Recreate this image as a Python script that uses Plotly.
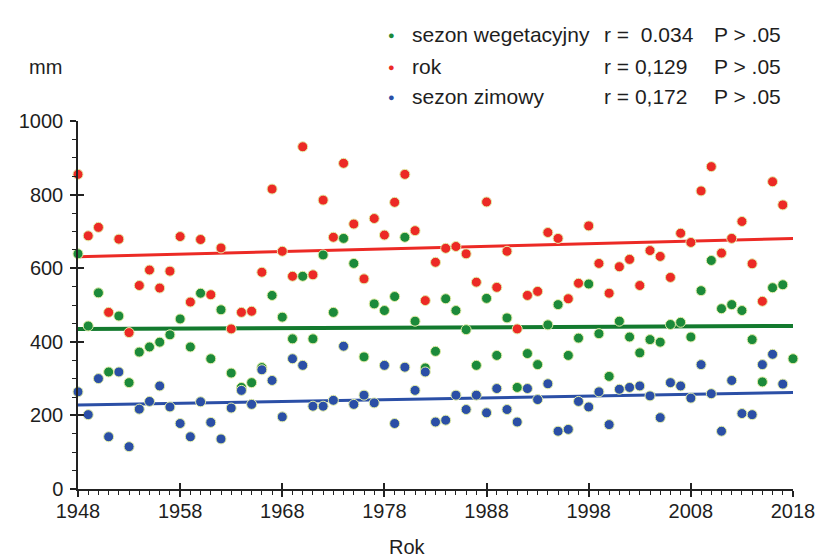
import plotly.graph_objects as go

years_rok = list(range(1948, 2018))
years_wege = list(range(1948, 2019))
years_zima = list(range(1948, 2018))

rok = [855, 688, 711, 480, 679, 425, 553, 595, 546, 592,
       686, 508, 678, 528, 655, 435, 480, 483, 589, 815,
       646, 578, 930, 582, 785, 684, 885, 720, 571, 735,
       690, 779, 855, 702, 512, 616, 654, 659, 639, 562,
       780, 548, 646, 435, 526, 537, 697, 681, 517, 559,
       715, 613, 532, 604, 624, 553, 648, 632, 575, 695,
       670, 810, 876, 641, 681, 727, 612, 510, 835, 772]

wege = [639, 443, 533, 318, 470, 289, 372, 386, 399, 419,
        462, 386, 532, 354, 487, 315, 276, 289, 330, 526,
        467, 408, 578, 408, 636, 480, 681, 613, 359, 503,
        485, 523, 684, 456, 329, 374, 517, 485, 433, 336,
        518, 363, 465, 276, 368, 338, 446, 501, 363, 410,
        557, 422, 306, 456, 413, 370, 406, 399, 447, 453,
        413, 539, 621, 490, 501, 485, 406, 291, 547, 555, 354]

zima = [264, 202, 300, 142, 318, 115, 217, 238, 280, 223,
        178, 142, 237, 181, 136, 220, 268, 230, 324, 295,
        196, 354, 336, 225, 225, 241, 388, 230, 255, 234,
        336, 178, 331, 268, 318, 182, 187, 255, 216, 255,
        207, 273, 216, 182, 273, 243, 286, 157, 162, 238,
        223, 264, 175, 271, 276, 280, 253, 194, 289, 280,
        247, 338, 259, 157, 295, 205, 202, 338, 366, 285]

trend_years = [1948, 2018]
trend_rok = [631, 681]
trend_wege = [435, 443]
trend_zima = [228, 262]

legend_names = ["sezon wegetacyjny", "rok", "sezon zimowy"]
legend_r = ["r =  0.034", "r = 0,129", "r = 0,172"]
legend_p = ["P > .05", "P > .05", "P > .05"]

x_ticks = [1948, 1958, 1968, 1978, 1988, 1998, 2008, 2018]
y_ticks = [0, 200, 400, 600, 800, 1000]

RED = "#ec2a25"
GREEN = "#1c8a3a"
BLUE = "#2b4fa6"
LINE_GREEN = "#137a2e"
RIM = "#e3eea8"
FONT = "Liberation Sans, Arial, sans-serif"
TXT = "#1e1e1e"

fig = go.Figure()

def dots(x, y, color):
    fig.add_trace(go.Scatter(
        x=x, y=y, mode="markers", cliponaxis=False, showlegend=False,
        marker=dict(size=10, color=color, line=dict(width=1, color=RIM))))

def trend(y, color, w):
    fig.add_trace(go.Scatter(
        x=trend_years, y=y, mode="lines", showlegend=False,
        line=dict(color=color, width=w)))

trend(trend_rok, RED, 3)
trend(trend_wege, LINE_GREEN, 4)
trend(trend_zima, BLUE, 3)
dots(years_rok, rok, RED)
dots(years_wege, wege, GREEN)
dots(years_zima, zima, BLUE)

# invisible trace on overlay axes (inner halves of major ticks)
fig.add_trace(go.Scatter(x=[1948], y=[0], xaxis="x2", yaxis="y2",
                         mode="markers", marker=dict(opacity=0),
                         showlegend=False, hoverinfo="skip"))

L, R, T, B = 78, 27, 121, 70
W, H = 827, 559
PW, PH = W - L - R, H - T - B

def px(xp):
    return (xp - L) / PW

def py(yp):
    return (H - B - yp) / PH

axis_font = dict(family=FONT, size=20, color=TXT)

fig.update_layout(
    width=W, height=H,
    margin=dict(l=L, r=R, t=T, b=B, pad=0),
    paper_bgcolor="white", plot_bgcolor="white",
    xaxis=dict(range=[1948, 2018], tickvals=x_ticks, ticktext=[str(v) for v in x_ticks],
               showgrid=False, zeroline=False, showline=True, linecolor="#222", linewidth=1.5,
               ticks="outside", ticklen=6, tickwidth=1.5, tickcolor="#222",
               minor=dict(dtick=1, tick0=1948, ticks="outside", ticklen=4, tickwidth=1, tickcolor="#222"),
               tickfont=axis_font, ticklabelstandoff=-3),
    yaxis=dict(range=[0, 1000], tickvals=y_ticks, showgrid=False, zeroline=False,
               showline=True, linecolor="#222", linewidth=1.5,
               ticks="outside", ticklen=6, tickwidth=1.5, tickcolor="#222",
               minor=dict(dtick=50, ticks="outside", ticklen=4, tickwidth=1, tickcolor="#222"),
               tickfont=axis_font, ticklabelstandoff=3),
    xaxis2=dict(range=[1948, 2018], overlaying="x", anchor="y2", side="bottom",
                tickvals=x_ticks, showticklabels=False, showgrid=False, zeroline=False,
                showline=False, ticks="inside", ticklen=6, tickwidth=1.5, tickcolor="#222"),
    yaxis2=dict(range=[0, 1000], overlaying="y", anchor="x2", side="left",
                tickvals=y_ticks, showticklabels=False, showgrid=False, zeroline=False,
                showline=False, ticks="inside", ticklen=6, tickwidth=1.5, tickcolor="#222"),
)

ann = []
ann.append(dict(text="mm", x=px(45), y=py(67), xref="paper", yref="paper",
                xanchor="center", yanchor="middle",
                showarrow=False, font=dict(family=FONT, size=20, color=TXT)))
ann.append(dict(text="Rok", x=px(411), y=py(547), xref="paper", yref="paper",
                xanchor="center", yanchor="middle",
                showarrow=False, font=dict(family=FONT, size=20, color=TXT)))
rows_y = [35, 67, 97]
colors = [GREEN, RED, BLUE]
for i in range(3):
    yy = py(rows_y[i])
    ann.append(dict(text="●", x=px(395), y=yy, xref="paper", yref="paper",
                    xanchor="center", yanchor="middle",
                    showarrow=False, font=dict(size=11, color=colors[i])))
    for txt, xx in ((legend_names[i], 413), (legend_r[i], 607), (legend_p[i], 718)):
        ann.append(dict(text=txt, x=px(xx), y=yy, xref="paper", yref="paper",
                        xanchor="left", yanchor="middle", showarrow=False,
                        font=dict(family=FONT, size=21, color=TXT)))
fig.update_layout(annotations=ann)

fig.write_html("out.html", config={"displayModeBar": False},
               post_script="document.body.style.margin='0px';")
